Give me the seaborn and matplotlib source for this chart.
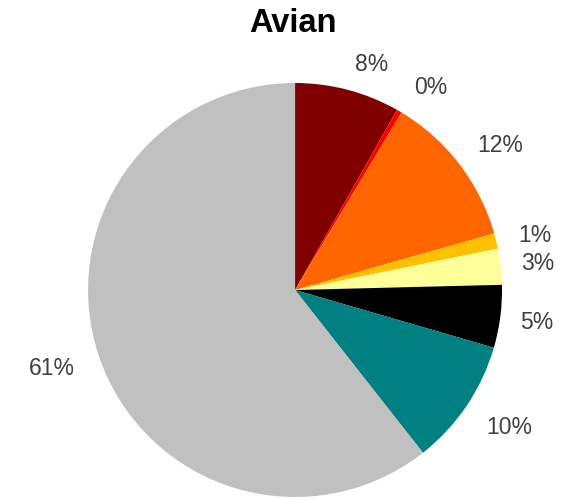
import matplotlib
matplotlib.use("Agg")
import numpy as np
import matplotlib.pyplot as plt
import seaborn as sns

categories = ["A", "B", "C", "D", "E", "F", "G", "H"]
values = [8.2, 0.4, 12.0, 1.2, 2.8, 4.9, 9.9, 60.6]
pct_labels = ["8%", "0%", "12%", "1%", "3%", "5%", "10%", "61%"]
colors = ["#800000", "#ff0000", "#ff6600", "#ffc000", "#ffff99",
          "#000000", "#008080", "#c0c0c0"]

# label placement tweaks (radius, angle nudge in degrees)
label_r = [1.15, 1.18, 1.21, 1.19, 1.18, 1.18, 1.23, 1.235]
label_nudge = [-3.9, -3.6, -2.3, -0.8, -0.2, -0.2, 1.4, -1.1]

sns.set_theme(style="white")
plt.rcParams["font.family"] = ["Liberation Sans", "DejaVu Sans"]

fig = plt.figure(figsize=(5.62, 5.0), dpi=100)
ax = fig.add_axes([0.0645, -0.0975, 0.921, 1.035])

wedges, _ = ax.pie(values, colors=sns.color_palette(colors),
                   startangle=90, counterclock=False,
                   wedgeprops=dict(linewidth=0))
for w, lab, r, nd in zip(wedges, pct_labels, label_r, label_nudge):
    ang = np.deg2rad((w.theta1 + w.theta2) / 2 + nd)
    ax.text(r * np.cos(ang), r * np.sin(ang), lab, ha="center", va="center",
            fontsize=16.5, color="#404040")
ax.set_xlim(-1.25, 1.25)
ax.set_ylim(-1.25, 1.25)

fig.text(0.522, 0.953, "Avian", ha="center", va="center",
         fontsize=23.5, fontweight="bold", color="black")

fig.savefig("out.png", dpi=100)
